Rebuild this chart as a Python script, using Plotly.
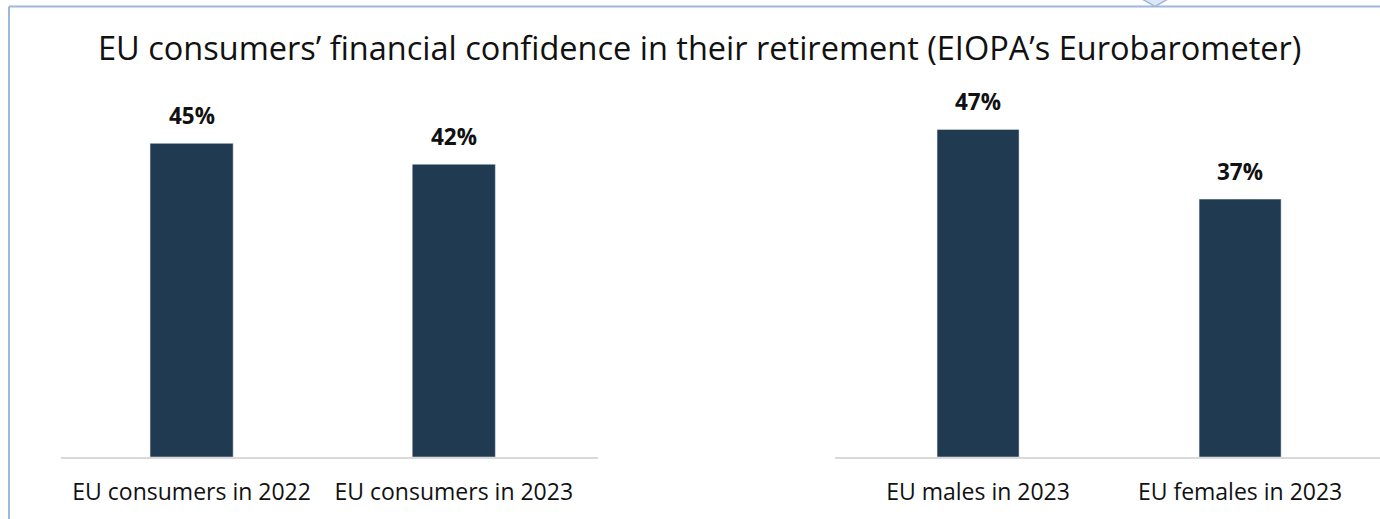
import plotly.graph_objects as go

# Survey results: share of consumers confident about their retirement finances
period_labels = ["EU consumers in 2022", "EU consumers in 2023"]
period_values = [45, 42]

gender_labels = ["EU males in 2023", "EU females in 2023"]
gender_values = [47, 37]

title_text = "EU consumers’ financial confidence in their retirement (EIOPA’s Eurobarometer)"

W, H = 1380, 519
M_TOP, M_BOT = 100, 62
PLOT_H = H - M_TOP - M_BOT
BAR_COLOR = "#203A51"
FONT = "Open Sans"


def px_x(px):
    return px / W


def px_y(py):
    return (H - M_BOT - py) / PLOT_H


fig = go.Figure()

fig.add_trace(go.Bar(x=period_labels, y=period_values, marker_color=BAR_COLOR,
                     width=0.317, xaxis="x", yaxis="y", hoverinfo="skip"))
fig.add_trace(go.Bar(x=gender_labels, y=gender_values, marker_color=BAR_COLOR,
                     width=0.313, xaxis="x2", yaxis="y2", hoverinfo="skip"))

annotations = []
for lab, val in zip(period_labels, period_values):
    annotations.append(dict(x=lab, y=val, xref="x", yref="y", text=f"<b>{val}%</b>",
                            showarrow=False, yanchor="bottom", yshift=10,
                            font=dict(family=FONT, size=22.5, color="#111111")))
for lab, val in zip(gender_labels, gender_values):
    annotations.append(dict(x=lab, y=val, xref="x2", yref="y2", text=f"<b>{val}%</b>",
                            showarrow=False, yanchor="bottom", yshift=10,
                            font=dict(family=FONT, size=22.5, color="#111111")))
annotations.append(dict(x=px_x(699), y=px_y(47), xref="paper", yref="paper",
                        text=title_text, showarrow=False, xanchor="center", yanchor="middle",
                        font=dict(family=FONT, size=32.5, color="#111111")))

shapes = [
    # frame edges
    dict(type="line", xref="paper", yref="paper", x0=px_x(9), x1=px_x(W), y0=px_y(6.5), y1=px_y(6.5),
         line=dict(color="#9DB8DA", width=2)),
    dict(type="line", xref="paper", yref="paper", x0=px_x(9), x1=px_x(9), y0=px_y(6.5), y1=px_y(H),
         line=dict(color="#9DB8DA", width=2)),
    # small tab on the top edge
    dict(type="path", xref="paper", yref="paper",
         path=f"M {px_x(1142)},{px_y(-1)} L {px_x(1168)},{px_y(-1)} L {px_x(1155)},{px_y(6.5)} Z",
         fillcolor="#DDE7F3", line=dict(color="#9DB8DA", width=1.5)),
]

axis_common = dict(showgrid=False, zeroline=False, showline=True, linecolor="#D9D9D9",
                   linewidth=2, ticks="", ticklabelstandoff=13,
                   tickfont=dict(family=FONT, size=23, color="#111111"), fixedrange=True)

fig.update_layout(
    width=W, height=H,
    margin=dict(l=0, r=0, t=M_TOP, b=M_BOT),
    paper_bgcolor="white", plot_bgcolor="white",
    showlegend=False,
    xaxis=dict(domain=[px_x(60.5), px_x(598)], range=[-0.5, 1.55], anchor="y", **axis_common),
    xaxis2=dict(domain=[px_x(835), 1.0], range=[-0.546, 1.534], anchor="y2", **axis_common),
    yaxis=dict(domain=[0, 1], range=[0, PLOT_H / 6.97], visible=False, fixedrange=True),
    yaxis2=dict(domain=[0, 1], range=[0, PLOT_H / 6.97], visible=False, fixedrange=True,
                anchor="x2"),
    annotations=annotations,
    shapes=shapes,
)

fig.write_html("out.html")
